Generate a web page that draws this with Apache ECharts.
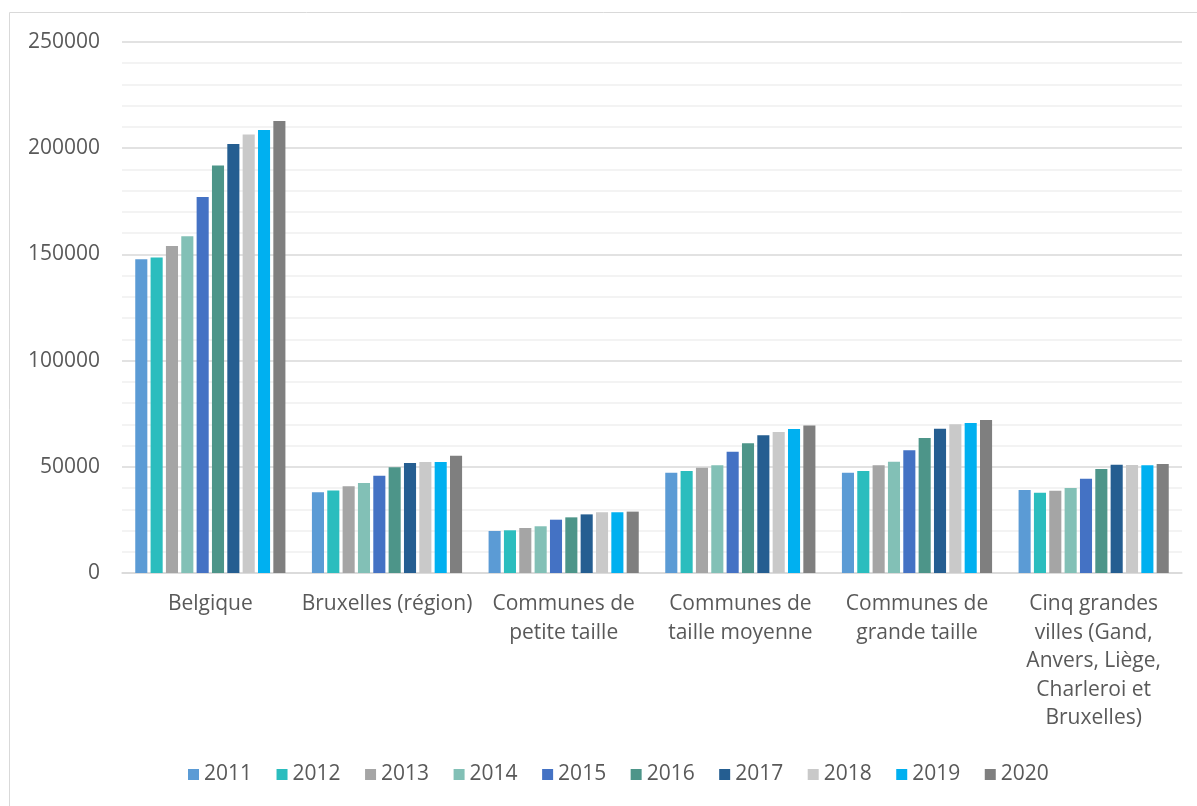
<!DOCTYPE html>
<html>
<head>
<meta charset="utf-8">
<script src="https://cdn.jsdelivr.net/npm/echarts@6/dist/echarts.min.js"></script>
<style>
  html, body { margin: 0; padding: 0; background: #fff; }
  #chart { width: 1197px; height: 806px; }
</style>
</head>
<body>
<div id="chart"></div>
<script>
// Regions / commune groups on the category axis
const categories = [
  'Belgique',
  'Bruxelles (région)',
  'Communes de\npetite taille',
  'Communes de\ntaille moyenne',
  'Communes de\ngrande taille',
  'Cinq grandes\nvilles (Gand,\nAnvers, Liège,\nCharleroi et\nBruxelles)'
];

const years = ['2011', '2012', '2013', '2014', '2015', '2016', '2017', '2018', '2019', '2020'];

// One array per year, values in the order of the categories above
const v2011 = [147700, 38000, 19800, 47200, 47200, 39100];
const v2012 = [148500, 38900, 20100, 48000, 48000, 37800];
const v2013 = [154000, 40800, 21200, 49600, 50700, 38700];
const v2014 = [158500, 42400, 22000, 50700, 52400, 40000];
const v2015 = [177000, 45800, 25100, 57100, 57800, 44400];
const v2016 = [191800, 49800, 26200, 61100, 63600, 49000];
const v2017 = [202000, 51800, 27600, 64800, 67900, 51000];
const v2018 = [206500, 52300, 28600, 66400, 70000, 50800];
const v2019 = [208600, 52300, 28600, 67800, 70600, 50700];
const v2020 = [212800, 55200, 28900, 69500, 72000, 51300];

const yTicks = [0, 50000, 100000, 150000, 200000, 250000];

const valuesByYear = [v2011, v2012, v2013, v2014, v2015, v2016, v2017, v2018, v2019, v2020];
const colors = ['#5B9BD5', '#2BBDBE', '#A5A5A5', '#82C0B6', '#4472C4',
                '#4D9589', '#255E91', '#C9C9C9', '#00B0F0', '#7F7F7F'];

const FONT = '"Open Sans", "Liberation Sans", sans-serif';
const TEXT = '#595959';

const chart = echarts.init(document.getElementById('chart'), null, { renderer: 'canvas' });

chart.setOption({
  animation: false,
  color: colors,
  textStyle: { fontFamily: FONT },
  graphic: [{
    type: 'rect',
    shape: { x: 9.5, y: 12.5, width: 1200, height: 800 },
    style: { fill: 'none', stroke: '#d9d9d9', lineWidth: 1 },
    silent: true
  }],
  grid: { left: 122, right: 15, top: 42, bottom: 233, containLabel: false },
  legend: {
    bottom: 16,
    left: 183,
    itemWidth: 11,
    itemHeight: 11,
    itemGap: 24.5,
    icon: 'rect',
    textStyle: { fontSize: 21, color: TEXT, fontFamily: FONT },
    data: years
  },
  xAxis: {
    type: 'category',
    data: categories,
    axisLine: { lineStyle: { color: '#d9d9d9', width: 1.5 } },
    axisTick: { show: false },
    axisLabel: {
      interval: 0,
      margin: 17,
      fontSize: 21,
      lineHeight: 28.5,
      color: TEXT,
      fontFamily: FONT,
      align: 'center',
      verticalAlign: 'top'
    }
  },
  yAxis: {
    type: 'value',
    min: yTicks[0],
    max: yTicks[yTicks.length - 1],
    interval: yTicks[1] - yTicks[0],
    axisLine: { show: false },
    axisTick: { show: false },
    axisLabel: {
      fontSize: 21, color: TEXT, margin: 22, fontFamily: FONT,
      formatter: (v) => String(v)
    },
    splitLine: { lineStyle: { color: '#d9d9d9', width: 1.5 } },
    minorTick: { show: false, splitNumber: 5 },
    minorSplitLine: { show: true, lineStyle: { color: '#efefef', width: 1.5 } }
  },
  series: years.map((y, i) => ({
    name: y,
    type: 'bar',
    data: valuesByYear[i],
    barGap: '27%',
    barCategoryGap: '15%',
    itemStyle: { color: colors[i] }
  }))
});
</script>
</body>
</html>
